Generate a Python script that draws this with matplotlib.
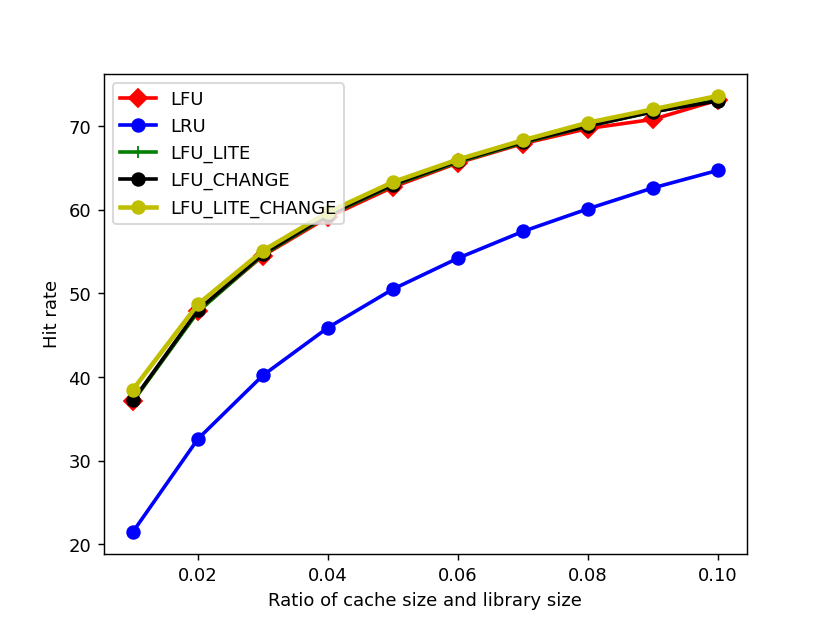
import matplotlib
matplotlib.use("Agg")
from matplotlib import pyplot as plt

# ratio of cache size and library size
ratios = [0.01, 0.02, 0.03, 0.04, 0.05, 0.06, 0.07, 0.08, 0.09, 0.10]

# hit rate per policy
lfu = [37.1, 47.9, 54.5, 59.1, 62.7, 65.6, 67.9, 69.7, 70.8, 73.1]
lru = [21.5, 32.6, 40.2, 45.9, 50.5, 54.2, 57.4, 60.1, 62.6, 64.7]
lfu_lite = [37.1, 47.8, 54.6, 59.3, 62.9, 65.7, 68.0, 70.0, 71.7, 73.1]
lfu_change = [37.2, 48.0, 54.7, 59.4, 63.0, 65.8, 68.1, 70.0, 71.7, 73.0]
lfu_lite_change = [38.5, 48.7, 55.1, 59.7, 63.3, 66.0, 68.3, 70.4, 72.0, 73.6]

fig = plt.figure(figsize=(6.4, 4.8), dpi=129.7)

plt.plot(ratios, lfu, 'r-D', label="LFU", linewidth=2, markersize=7)
plt.plot(ratios, lru, 'b-o', label="LRU", linewidth=2, markersize=7)
plt.plot(ratios, lfu_lite, 'g-+', label="LFU_LITE", linewidth=2, markersize=7)
plt.plot(ratios, lfu_change, 'k-o', label="LFU_CHANGE", linewidth=2, markersize=7)
plt.plot(ratios, lfu_lite_change, 'y-o', label="LFU_LITE_CHANGE", linewidth=2.5, markersize=7)

plt.xlabel("Ratio of cache size and library size")
plt.ylabel("Hit rate")
plt.legend(loc="upper left")

plt.savefig("out.png", dpi=129.7)
